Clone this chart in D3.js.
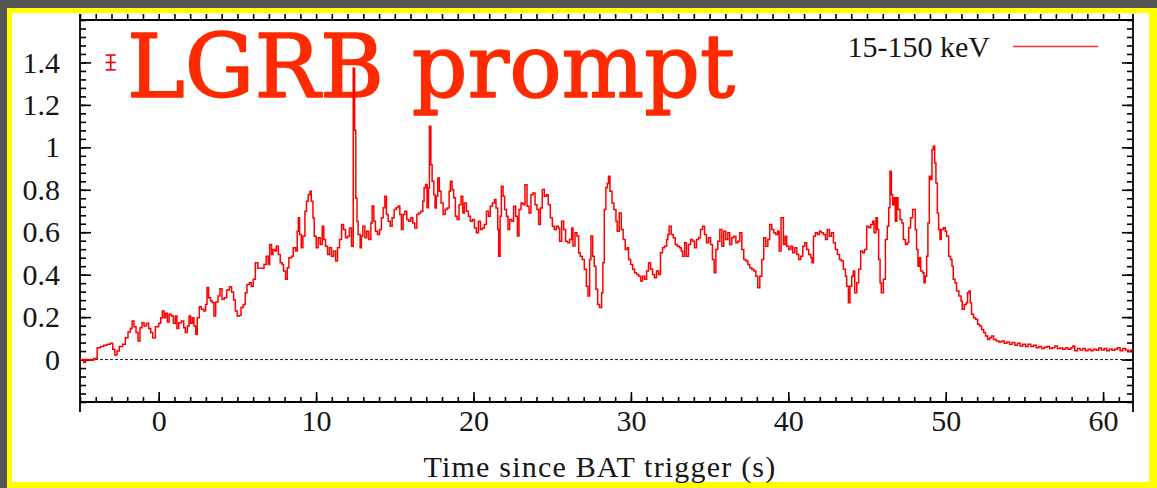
<!DOCTYPE html>
<html>
<head>
<meta charset="utf-8">
<script src="https://cdn.jsdelivr.net/npm/d3@7/dist/d3.min.js"></script>
<style>
  html, body { margin: 0; padding: 0; background: #565656; }
  svg { display: block; }
</style>
</head>
<body>
<svg id="chart" width="1157" height="488"></svg>
<script>
// Swift/BAT mask-weighted light curve, 15-150 keV (counts/s/det), time in s since trigger
const times = [
  -5.0, -4.87, -4.76, -4.65, -4.34, -4.13, -3.91, -3.70, -3.49, -3.28, -3.07, -2.92, -2.79, -2.65, -2.50, -2.29,
  -2.12, -1.95, -1.80, -1.69, -1.57, -1.44, -1.31, -1.19, -1.06, -0.93, -0.78, -0.64, -0.51, -0.38, -0.21, 0.0,
  0.13, 0.23, 0.34, 0.44, 0.55, 0.66, 0.80, 0.93, 1.06, 1.16, 1.27, 1.44, 1.59, 1.69, 1.82, 1.93,
  2.03, 2.14, 2.24, 2.35, 2.45, 2.58, 2.71, 2.86, 2.98, 3.07, 3.17, 3.30, 3.41, 3.51, 3.62, 3.77,
  3.89, 4.02, 4.17, 4.32, 4.49, 4.63, 4.76, 4.87, 4.99, 5.12, 5.23, 5.37, 5.50, 5.61, 5.76, 5.88,
  6.01, 6.14, 6.30, 6.69, 6.83, 6.96, 7.05, 7.17, 7.26, 7.38, 7.47, 7.60, 7.72, 7.85, 7.93, 8.06,
  8.17, 8.27, 8.44, 8.55, 8.70, 8.80, 8.87, 8.95, 9.06, 9.16, 9.29, 9.39, 9.50, 9.61, 9.69, 9.80,
  9.88, 10.01, 10.13, 10.26, 10.39, 10.49, 10.60, 10.73, 10.85, 10.98, 11.11, 11.24, 11.36, 11.49, 11.62, 11.74,
  11.87, 12.00, 12.12, 12.25, 12.36, 12.45, 12.52, 12.60, 12.67, 12.80, 12.88, 12.97, 13.10, 13.22, 13.35, 13.48,
  13.56, 13.67, 13.77, 13.90, 14.03, 14.15, 14.26, 14.37, 14.47, 14.58, 14.71, 14.83, 14.96, 15.09, 15.21, 15.32,
  15.42, 15.53, 15.64, 15.76, 15.89, 16.02, 16.14, 16.27, 16.40, 16.52, 16.65, 16.78, 16.86, 16.95, 17.05, 17.14,
  17.20, 17.29, 17.37, 17.48, 17.56, 17.64, 17.73, 17.83, 17.94, 18.07, 18.20, 18.32, 18.45, 18.53, 18.64, 18.74,
  18.85, 18.96, 19.08, 19.21, 19.32, 19.42, 19.55, 19.68, 19.80, 19.93, 20.06, 20.18, 20.31, 20.44, 20.56, 20.69,
  20.82, 20.95, 21.07, 21.20, 21.33, 21.43, 21.54, 21.60, 21.69, 21.77, 21.88, 21.98, 22.09, 22.19, 22.30, 22.43,
  22.55, 22.68, 22.79, 22.89, 23.02, 23.15, 23.27, 23.40, 23.53, 23.65, 23.78, 23.91, 24.03, 24.14, 24.25, 24.37,
  24.50, 24.63, 24.75, 24.88, 25.01, 25.13, 25.26, 25.39, 25.47, 25.60, 25.73, 25.85, 25.98, 26.11, 26.24, 26.32,
  26.45, 26.57, 26.68, 26.78, 26.91, 27.04, 27.17, 27.27, 27.38, 27.46, 27.57, 27.67, 27.78, 27.89, 28.01, 28.14,
  28.22, 28.31, 28.41, 28.50, 28.58, 28.67, 28.80, 28.92, 29.05, 29.13, 29.26, 29.39, 29.51, 29.64, 29.77, 29.85,
  29.98, 30.11, 30.23, 30.36, 30.49, 30.62, 30.74, 30.87, 31.00, 31.12, 31.25, 31.38, 31.50, 31.63, 31.76, 31.88,
  32.01, 32.14, 32.27, 32.35, 32.43, 32.56, 32.69, 32.82, 32.94, 33.07, 33.20, 33.28, 33.41, 33.53, 33.66, 33.79,
  33.92, 34.04, 34.17, 34.30, 34.42, 34.55, 34.68, 34.80, 34.93, 35.06, 35.18, 35.29, 35.40, 35.52, 35.65, 35.78,
  35.90, 36.03, 36.16, 36.28, 36.41, 36.54, 36.67, 36.79, 36.92, 37.05, 37.17, 37.30, 37.43, 37.55, 37.68, 37.81,
  37.94, 38.06, 38.19, 38.32, 38.44, 38.57, 38.70, 38.82, 38.95, 39.08, 39.20, 39.33, 39.42, 39.54, 39.69, 39.80,
  39.90, 40.03, 40.16, 40.28, 40.41, 40.54, 40.66, 40.79, 40.92, 41.05, 41.17, 41.30, 41.43, 41.51, 41.60, 41.72,
  41.85, 41.98, 42.10, 42.23, 42.36, 42.48, 42.61, 42.74, 42.87, 42.99, 43.12, 43.25, 43.37, 43.50, 43.63, 43.71,
  43.82, 43.92, 44.03, 44.13, 44.22, 44.35, 44.47, 44.60, 44.73, 44.85, 44.98, 45.11, 45.24, 45.36, 45.45, 45.57,
  45.66, 45.74, 45.83, 45.91, 46.04, 46.17, 46.29, 46.38, 46.46, 46.55, 46.63, 46.72, 46.80, 46.89, 46.97, 47.10,
  47.22, 47.31, 47.44, 47.56, 47.65, 47.77, 47.90, 47.99, 48.07, 48.15, 48.24, 48.32, 48.41, 48.54, 48.62, 48.70,
  48.79, 48.87, 48.96, 49.04, 49.13, 49.21, 49.30, 49.38, 49.47, 49.55, 49.64, 49.72, 49.85, 49.97, 50.06, 50.19,
  50.31, 50.40, 50.48, 50.59, 50.69, 50.84, 50.97, 51.05, 51.18, 51.31, 51.39, 51.48, 51.56, 51.64, 51.77, 51.90,
  52.03, 52.15, 52.28, 52.41, 52.53, 52.66, 52.79, 52.91, 53.04, 53.21, 53.38, 53.55, 53.72, 53.89, 54.06, 54.23,
  54.40, 54.56, 54.73, 54.90, 55.07, 55.24, 55.41, 55.58, 55.75, 55.92, 56.09, 56.26, 56.43, 56.60, 56.77, 56.93,
  57.10, 57.27, 57.44, 57.61, 57.78, 57.95, 58.08, 58.20, 58.37, 58.54, 58.71, 58.88, 59.05, 59.22, 59.39, 59.56,
  59.73, 59.90, 60.07, 60.23, 60.40, 60.57, 60.74, 60.91, 61.08, 61.25, 61.42, 61.59, 61.76, 61.93, 62.0
];
const rates = [
  0.0, 0.0, -0.014, 0.0, -0.003, 0.005, 0.056, 0.061, 0.067, 0.072, 0.077, 0.048, 0.022, 0.040, 0.061, 0.072,
  0.103, 0.130, 0.146, 0.182, 0.155, 0.127, 0.088, 0.150, 0.174, 0.158, 0.171, 0.146, 0.127, 0.103, 0.155, 0.171,
  0.197, 0.229, 0.197, 0.218, 0.177, 0.213, 0.205, 0.171, 0.205, 0.146, 0.174, 0.182, 0.150, 0.127, 0.158, 0.205,
  0.171, 0.197, 0.158, 0.119, 0.197, 0.249, 0.237, 0.229, 0.260, 0.339, 0.291, 0.276, 0.268, 0.205, 0.271, 0.299,
  0.334, 0.284, 0.291, 0.328, 0.343, 0.318, 0.281, 0.229, 0.205, 0.208, 0.245, 0.260, 0.315, 0.354, 0.362, 0.346,
  0.378, 0.456, 0.430, 0.448, 0.487, 0.448, 0.542, 0.495, 0.519, 0.511, 0.534, 0.495, 0.456, 0.448, 0.417, 0.378,
  0.433, 0.480, 0.487, 0.527, 0.511, 0.605, 0.668, 0.589, 0.527, 0.581, 0.699, 0.746, 0.777, 0.793, 0.746, 0.668,
  0.581, 0.527, 0.574, 0.542, 0.628, 0.566, 0.534, 0.495, 0.527, 0.487, 0.511, 0.464, 0.527, 0.566, 0.636, 0.613,
  0.574, 0.581, 0.620, 0.534, 1.373, 1.080, 0.760, 0.652, 0.589, 0.527, 0.581, 0.628, 0.574, 0.605, 0.566, 0.644,
  0.723, 0.652, 0.605, 0.589, 0.613, 0.668, 0.715, 0.770, 0.683, 0.652, 0.628, 0.668, 0.707, 0.715, 0.723, 0.683,
  0.613, 0.683, 0.699, 0.660, 0.652, 0.668, 0.644, 0.620, 0.683, 0.691, 0.699, 0.746, 0.809, 0.825, 0.715, 0.809,
  1.099, 0.918, 0.840, 0.777, 0.714, 0.770, 0.856, 0.793, 0.738, 0.683, 0.707, 0.714, 0.793, 0.840, 0.800, 0.762,
  0.675, 0.660, 0.730, 0.770, 0.691, 0.738, 0.699, 0.675, 0.652, 0.660, 0.620, 0.597, 0.652, 0.613, 0.620, 0.636,
  0.699, 0.675, 0.722, 0.738, 0.754, 0.714, 0.613, 0.487, 0.675, 0.817, 0.770, 0.707, 0.675, 0.613, 0.660, 0.652,
  0.722, 0.675, 0.582, 0.707, 0.738, 0.730, 0.824, 0.722, 0.691, 0.777, 0.785, 0.730, 0.707, 0.636, 0.714, 0.801,
  0.770, 0.777, 0.730, 0.668, 0.628, 0.613, 0.628, 0.620, 0.558, 0.652, 0.613, 0.558, 0.550, 0.566, 0.620, 0.535,
  0.597, 0.582, 0.503, 0.487, 0.472, 0.425, 0.346, 0.299, 0.472, 0.582, 0.487, 0.440, 0.331, 0.260, 0.245, 0.315,
  0.456, 0.707, 0.809, 0.830, 0.864, 0.793, 0.738, 0.707, 0.652, 0.605, 0.691, 0.613, 0.566, 0.519, 0.527, 0.472,
  0.448, 0.425, 0.409, 0.401, 0.393, 0.370, 0.393, 0.378, 0.417, 0.456, 0.425, 0.401, 0.386, 0.417, 0.401, 0.503,
  0.527, 0.534, 0.566, 0.589, 0.628, 0.589, 0.574, 0.542, 0.534, 0.527, 0.511, 0.487, 0.550, 0.487, 0.542, 0.566,
  0.558, 0.527, 0.566, 0.574, 0.613, 0.628, 0.589, 0.550, 0.574, 0.542, 0.472, 0.409, 0.519, 0.558, 0.613, 0.534,
  0.605, 0.566, 0.597, 0.542, 0.574, 0.581, 0.550, 0.558, 0.597, 0.519, 0.472, 0.464, 0.448, 0.433, 0.425, 0.417,
  0.393, 0.338, 0.393, 0.472, 0.574, 0.534, 0.566, 0.636, 0.613, 0.597, 0.589, 0.605, 0.511, 0.668, 0.542, 0.581,
  0.534, 0.519, 0.534, 0.503, 0.527, 0.495, 0.472, 0.487, 0.534, 0.550, 0.519, 0.495, 0.480, 0.456, 0.581, 0.597,
  0.589, 0.605, 0.597, 0.589, 0.566, 0.613, 0.581, 0.597, 0.550, 0.519, 0.495, 0.472, 0.464, 0.425, 0.393, 0.346,
  0.268, 0.346, 0.393, 0.417, 0.315, 0.362, 0.425, 0.511, 0.503, 0.519, 0.628, 0.621, 0.636, 0.652, 0.597, 0.668,
  0.613, 0.472, 0.362, 0.315, 0.378, 0.566, 0.628, 0.715, 0.887, 0.777, 0.730, 0.762, 0.652, 0.762, 0.707, 0.660,
  0.644, 0.566, 0.542, 0.550, 0.621, 0.668, 0.707, 0.707, 0.613, 0.519, 0.440, 0.480, 0.417, 0.409, 0.362, 0.393,
  0.487, 0.644, 0.864, 0.848, 0.989, 1.005, 0.926, 0.832, 0.691, 0.613, 0.566, 0.613, 0.621, 0.605, 0.581, 0.487,
  0.472, 0.440, 0.378, 0.362, 0.323, 0.299, 0.276, 0.237, 0.260, 0.268, 0.315, 0.323, 0.268, 0.213, 0.197, 0.190,
  0.166, 0.158, 0.142, 0.127, 0.111, 0.095, 0.103, 0.111, 0.095, 0.088, 0.083, 0.088, 0.077, 0.083, 0.072, 0.080,
  0.067, 0.077, 0.064, 0.072, 0.061, 0.072, 0.061, 0.067, 0.056, 0.061, 0.052, 0.058, 0.061, 0.052, 0.056, 0.064,
  0.052, 0.055, 0.048, 0.055, 0.048, 0.056, 0.064, 0.041, 0.052, 0.045, 0.052, 0.041, 0.048, 0.042, 0.048, 0.044,
  0.055, 0.045, 0.052, 0.042, 0.048, 0.044, 0.048, 0.056, 0.042, 0.052, 0.045, 0.039, 0.045, 0.038, 0.038
];

// Representative error bar drawn in the upper-left corner
const errBar = { t: -3.05, rate: 1.4, dRate: 0.035, dT: 0.33 };

const xTickValues = [0, 10, 20, 30, 40, 50, 60];
const yTickValues = [0, 0.2, 0.4, 0.6, 0.8, 1.0, 1.2, 1.4];
const yTickLabels = ["0", "0.2", "0.4", "0.6", "0.8", "1", "1.2", "1.4"];
const legendLabel = "15-150 keV";
const xAxisTitle = "Time since BAT trigger (s)";
const titleText = "LGRB prompt";

const svg = d3.select("#chart");
const W = 1157, H = 488;
const plot = { left: 80, right: 1133, top: 20, bottom: 402 };
const serif = "'Liberation Serif', 'Times New Roman', serif";

// framed card
svg.append("rect").attr("x", 7).attr("y", 8).attr("width", W - 7).attr("height", H - 8).attr("fill", "#ffff00");
svg.append("rect").attr("x", 12).attr("y", 13).attr("width", 1137).attr("height", 469).attr("fill", "#ffffff");

const x = d3.scaleLinear().domain([-5, 61.9]).range([plot.left, plot.right]);
const y = d3.scaleLinear().domain([-0.2, 1.6]).range([plot.bottom, plot.top]);

const xMinor = d3.range(-5, 62, 1);
const yMinor = d3.range(-0.2, 1.601, 0.04);

function styleAxis(g) {
  g.select(".domain").remove();
  g.selectAll(".tick line").attr("stroke", "#000").attr("stroke-width", 1.6);
  g.selectAll(".tick text").attr("fill", "#161616").style("font-family", serif).style("font-size", "30px");
}

// bottom axis: inward ticks + labels
svg.append("g").attr("transform", `translate(0,${plot.bottom})`)
  .call(d3.axisBottom(x).tickValues(xMinor).tickSize(-5).tickFormat(""))
  .call(styleAxis);
svg.append("g").attr("transform", `translate(0,${plot.bottom})`)
  .call(d3.axisBottom(x).tickValues(xTickValues).tickSize(-10).tickPadding(8).tickFormat(d3.format("d")))
  .call(styleAxis);

// top axis: short outward ticks
svg.append("g").attr("transform", `translate(0,${plot.top})`)
  .call(d3.axisTop(x).tickValues(xMinor).tickSize(6).tickFormat(""))
  .call(styleAxis);

// left axis
svg.append("g").attr("transform", `translate(${plot.left},0)`)
  .call(d3.axisLeft(y).tickValues(yMinor).tickSize(-6).tickFormat(""))
  .call(styleAxis);
svg.append("g").attr("transform", `translate(${plot.left},0)`)
  .call(d3.axisLeft(y).tickValues(yTickValues).tickSize(-11).tickPadding(20)
    .tickFormat((d, i) => yTickLabels[i]))
  .call(styleAxis);

// right axis, ticks only
svg.append("g").attr("transform", `translate(${plot.right},0)`)
  .call(d3.axisRight(y).tickValues(yMinor).tickSize(-6).tickFormat(""))
  .call(styleAxis);
svg.append("g").attr("transform", `translate(${plot.right},0)`)
  .call(d3.axisRight(y).tickValues(yTickValues).tickSize(-11).tickFormat(""))
  .call(styleAxis);

// frame lines
const frame = svg.append("g").attr("stroke", "#000").attr("stroke-width", 1.8);
frame.append("line").attr("x1", plot.left).attr("x2", plot.right).attr("y1", plot.top).attr("y2", plot.top);
frame.append("line").attr("x1", plot.left).attr("x2", plot.right).attr("y1", plot.bottom).attr("y2", plot.bottom);
frame.append("line").attr("x1", plot.left).attr("x2", plot.left).attr("y1", plot.top - 6).attr("y2", plot.bottom + 10);
frame.append("line").attr("x1", plot.right).attr("x2", plot.right).attr("y1", plot.top - 6).attr("y2", plot.bottom + 10);

// zero level
svg.append("line")
  .attr("x1", plot.left).attr("x2", plot.right)
  .attr("y1", y(0)).attr("y2", y(0))
  .attr("stroke", "#000").attr("stroke-width", 0.9).attr("stroke-dasharray", "3,2");

// light curve
svg.append("clipPath").attr("id", "plotClip").append("rect")
  .attr("x", plot.left).attr("y", plot.top)
  .attr("width", plot.right - plot.left).attr("height", plot.bottom - plot.top);

const points = times.map((t, i) => [t, rates[i]]);
const line = d3.line().x(d => x(d[0])).y(d => y(d[1])).curve(d3.curveStepAfter);

// title sits under the curve; a thin matching stroke rounds off the slab serifs
svg.append("text")
  .attr("x", 127).attr("y", 97)
  .attr("fill", "#ff2a00")
  .attr("stroke", "#ff2a00").attr("stroke-width", 1.6).attr("stroke-linejoin", "round")
  .style("font-family", "'DejaVu Serif', 'Liberation Serif', serif")
  .style("font-size", "88px")
  .attr("textLength", 608).attr("lengthAdjust", "spacingAndGlyphs")
  .text(titleText);

svg.append("path")
  .datum(points)
  .attr("clip-path", "url(#plotClip)")
  .attr("fill", "none")
  .attr("stroke", "#ff0000")
  .attr("stroke-width", 1.5)
  .attr("d", line);

// error bar
const eb = svg.append("g").attr("stroke", "#ee0000").attr("stroke-width", 1.6);
const ebx = x(errBar.t), cap = 5;
eb.append("line").attr("x1", ebx).attr("x2", ebx).attr("y1", y(errBar.rate - errBar.dRate)).attr("y2", y(errBar.rate + errBar.dRate));
eb.append("line").attr("x1", ebx - cap).attr("x2", ebx + cap).attr("y1", y(errBar.rate + errBar.dRate)).attr("y2", y(errBar.rate + errBar.dRate));
eb.append("line").attr("x1", ebx - cap).attr("x2", ebx + cap).attr("y1", y(errBar.rate - errBar.dRate)).attr("y2", y(errBar.rate - errBar.dRate));
eb.append("line").attr("x1", x(errBar.t - errBar.dT)).attr("x2", x(errBar.t + errBar.dT)).attr("y1", y(errBar.rate)).attr("y2", y(errBar.rate));

// legend
svg.append("text")
  .attr("x", 990).attr("y", 57).attr("text-anchor", "end")
  .attr("fill", "#161616")
  .style("font-family", serif).style("font-size", "30px")
  .text(legendLabel);
svg.append("line")
  .attr("x1", 1013).attr("x2", 1098).attr("y1", 46.5).attr("y2", 46.5)
  .attr("stroke", "#ff3030").attr("stroke-width", 1.4);

// axis title
svg.append("text")
  .attr("x", 600).attr("y", 477).attr("text-anchor", "middle")
  .attr("fill", "#161616")
  .style("font-family", serif).style("font-size", "30px").style("letter-spacing", "1.2px")
  .text(xAxisTitle);
</script>
</body>
</html>
